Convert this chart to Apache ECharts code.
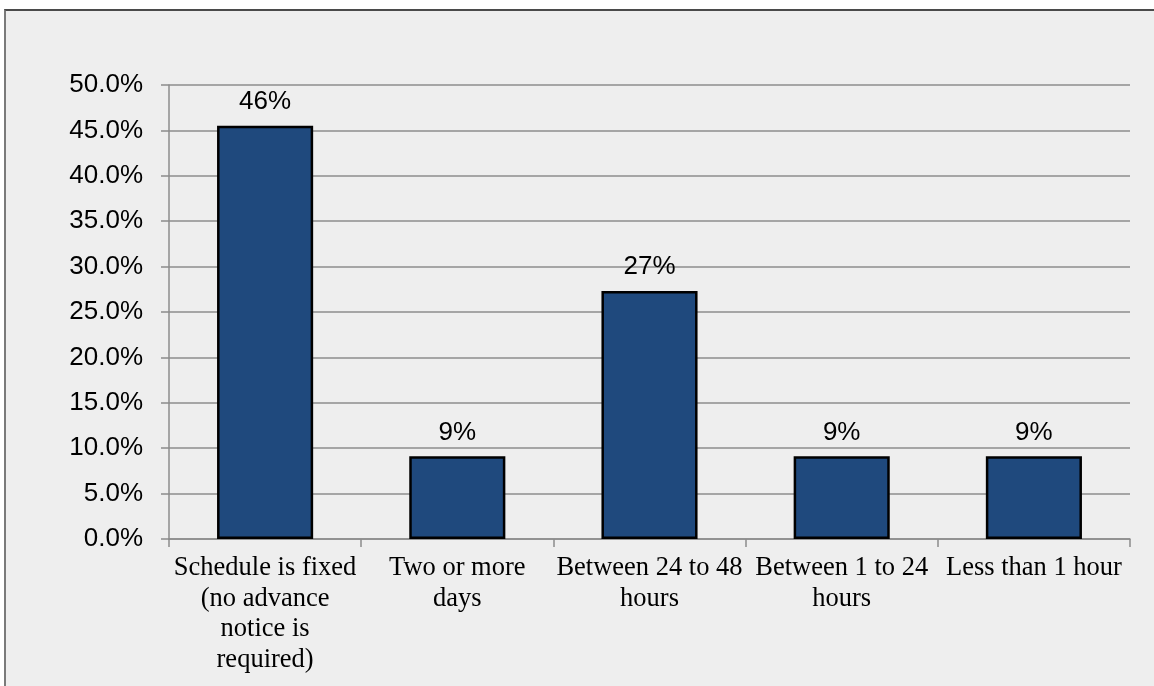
<!DOCTYPE html>
<html>
<head>
<meta charset="utf-8">
<script src="https://cdn.jsdelivr.net/npm/echarts@6/dist/echarts.min.js"></script>
<style>
  html, body { margin: 0; padding: 0; background: #ffffff; }
  #frame {
    position: absolute; left: 4px; top: 9px; width: 1160px; height: 700px;
    background: #eeeeee; box-sizing: border-box;
    border-left: 2px solid #7a7a7a; border-top: 2px solid #4a4a4a;
  }
  #chart { position: absolute; left: 0; top: 0; width: 1154px; height: 686px; }
</style>
</head>
<body>
<div id="frame"></div>
<div id="chart"></div>
<script>
// Advance notice required for schedule changes (share of respondents)
const categories = [
  'Schedule is fixed\n(no advance\nnotice is\nrequired)',
  'Two or more\ndays',
  'Between 24 to 48\nhours',
  'Between 1 to 24\nhours',
  'Less than 1 hour'
];
const shares = [45.5, 9.1, 27.3, 9.1, 9.1];
const yTicks = { min: 0, max: 50, step: 5 };

const chart = echarts.init(document.getElementById('chart'), null, { renderer: 'canvas' });
const gridColor = '#8c8c8c';

chart.setOption({
  backgroundColor: 'transparent',
  animation: false,
  grid: { left: 169, right: 24, top: 85, bottom: 147, containLabel: false },
  xAxis: {
    type: 'category',
    data: categories,
    axisLine: { show: true, lineStyle: { color: gridColor, width: 1.5 } },
    axisTick: { show: true, length: 8, alignWithLabel: false, lineStyle: { color: gridColor, width: 1.5 } },
    axisLabel: {
      interval: 0, margin: 14,
      fontFamily: '"Liberation Serif", "Times New Roman", serif',
      fontSize: 26.5, lineHeight: 30.5, color: '#000000', align: 'center'
    }
  },
  yAxis: {
    type: 'value',
    min: yTicks.min, max: yTicks.max, interval: yTicks.step,
    axisLine: { show: true, lineStyle: { color: gridColor, width: 1.5 } },
    axisTick: { show: true, length: 8, lineStyle: { color: gridColor, width: 1.5 } },
    splitLine: { show: true, lineStyle: { color: gridColor, width: 1.5 } },
    axisLabel: {
      margin: 26,
      fontFamily: '"Liberation Sans", Arial, sans-serif',
      fontSize: 26, color: '#000000',
      formatter: v => v.toFixed(1) + '%'
    }
  },
  series: [{
    type: 'bar',
    data: shares,
    barWidth: '50%',
    itemStyle: { color: '#1f497d', borderColor: '#000000', borderWidth: 2.5 },
    label: {
      show: true, position: 'top', distance: 11,
      fontFamily: '"Liberation Sans", Arial, sans-serif',
      fontSize: 26, color: '#000000',
      formatter: p => Math.round(p.value) + '%'
    }
  }]
});
</script>
</body>
</html>
